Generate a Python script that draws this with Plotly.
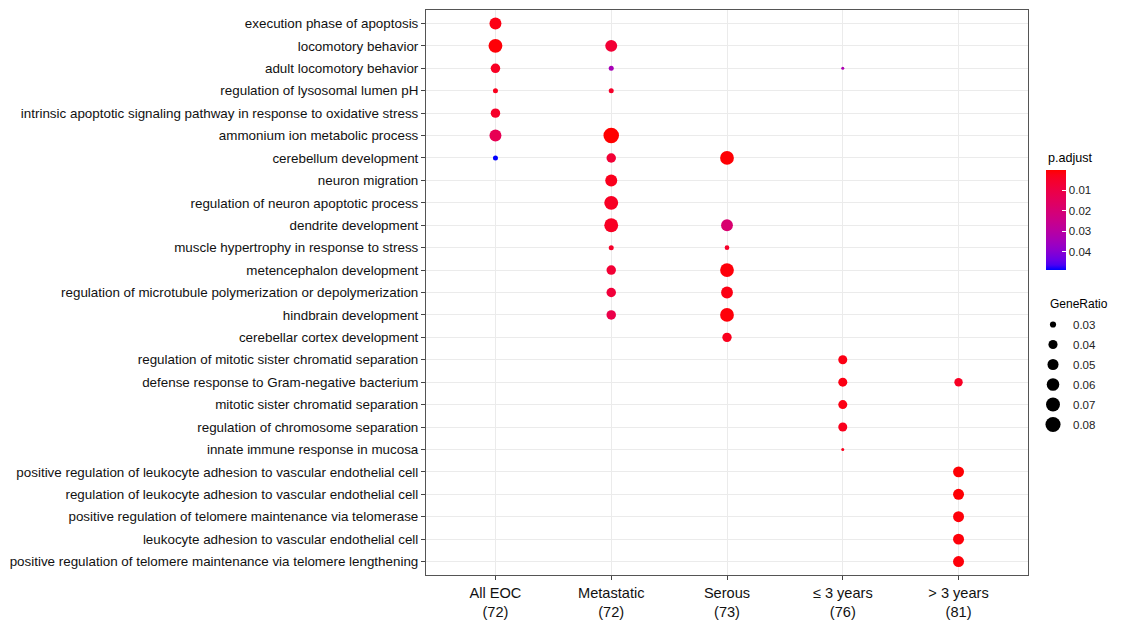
import math
import plotly.graph_objects as go

# ---------------- data ----------------
terms = [
    "execution phase of apoptosis",
    "locomotory behavior",
    "adult locomotory behavior",
    "regulation of lysosomal lumen pH",
    "intrinsic apoptotic signaling pathway in response to oxidative stress",
    "ammonium ion metabolic process",
    "cerebellum development",
    "neuron migration",
    "regulation of neuron apoptotic process",
    "dendrite development",
    "muscle hypertrophy in response to stress",
    "metencephalon development",
    "regulation of microtubule polymerization or depolymerization",
    "hindbrain development",
    "cerebellar cortex development",
    "regulation of mitotic sister chromatid separation",
    "defense response to Gram-negative bacterium",
    "mitotic sister chromatid separation",
    "regulation of chromosome separation",
    "innate immune response in mucosa",
    "positive regulation of leukocyte adhesion to vascular endothelial cell",
    "regulation of leukocyte adhesion to vascular endothelial cell",
    "positive regulation of telomere maintenance via telomerase",
    "leukocyte adhesion to vascular endothelial cell",
    "positive regulation of telomere maintenance via telomere lengthening",
]

groups = ["All EOC", "Metastatic", "Serous", "≤ 3 years", "> 3 years"]
group_n = [72, 72, 73, 76, 81]

# one entry per dot: term index, group index, gene count, p.adjust
dot_term = [0, 1, 2, 3, 4, 5, 6,
            1, 2, 3, 5, 6, 7, 8, 9, 10, 11, 12, 13,
            6, 9, 10, 11, 12, 13, 14,
            2, 15, 16, 17, 18, 19,
            16, 20, 21, 22, 23, 24]
dot_group = [0, 0, 0, 0, 0, 0, 0,
             1, 1, 1, 1, 1, 1, 1, 1, 1, 1, 1, 1,
             2, 2, 2, 2, 2, 2, 2,
             3, 3, 3, 3, 3, 3,
             4, 4, 4, 4, 4, 4]
dot_count = [4, 5, 3, 2, 3, 4, 2,
             4, 2, 2, 6, 3, 4, 5, 5, 2, 3, 3, 3,
             5, 4, 2, 5, 4, 5, 3,
             2, 3, 3, 3, 3, 2,
             3, 4, 4, 4, 4, 4]
dot_padj = [0.002, 0.0008, 0.004, 0.003, 0.005, 0.013, 0.0488,
            0.007, 0.034, 0.005, 0.0001, 0.007, 0.003, 0.004, 0.004, 0.005, 0.007, 0.008, 0.011,
            0.0005, 0.019, 0.005, 0.001, 0.002, 0.001, 0.003,
            0.033, 0.002, 0.002, 0.002, 0.003, 0.003,
            0.004, 0.0005, 0.0005, 0.001, 0.001, 0.001]

size_breaks = [0.03, 0.04, 0.05, 0.06, 0.07, 0.08]
padj_breaks = [0.01, 0.02, 0.03, 0.04]

# ---------------- scales ----------------
gene_ratio = [c / group_n[g] for c, g in zip(dot_count, dot_group)]
r_min, r_max = min(gene_ratio), max(gene_ratio)
D_MIN, D_MAX = 3.0, 15.5


def size_scale(v):
    t = (v - r_min) / (r_max - r_min)
    t = min(max(t, 0.0), 1.0)
    return D_MIN + (D_MAX - D_MIN) * math.sqrt(t)


# Lab interpolation (like ggplot2's gradient) from blue (high p) to red (low p)
def _lin(c):
    c = c / 255.0
    return c / 12.92 if c <= 0.04045 else ((c + 0.055) / 1.055) ** 2.4


def _unlin(c):
    c = 12.92 * c if c <= 0.0031308 else 1.055 * c ** (1 / 2.4) - 0.055
    return max(0, min(255, round(c * 255)))


WX, WY, WZ = 0.95047, 1.0, 1.08883


def rgb2lab(rgb):
    r, g, b = (_lin(v) for v in rgb)
    x = 0.4124 * r + 0.3576 * g + 0.1805 * b
    y = 0.2126 * r + 0.7152 * g + 0.0722 * b
    z = 0.0193 * r + 0.1192 * g + 0.9505 * b

    def f(t):
        return t ** (1 / 3) if t > 216 / 24389 else (24389 / 27 * t + 16) / 116

    fx, fy, fz = f(x / WX), f(y / WY), f(z / WZ)
    return (116 * fy - 16, 500 * (fx - fy), 200 * (fy - fz))


def lab2rgb(lab):
    L, a, b = lab
    fy = (L + 16) / 116
    fx = fy + a / 500
    fz = fy - b / 200

    def finv(t):
        return t ** 3 if t ** 3 > 216 / 24389 else (116 * t - 16) / (24389 / 27)

    x, y, z = finv(fx) * WX, finv(fy) * WY, finv(fz) * WZ
    r = 3.2406 * x - 1.5372 * y - 0.4986 * z
    g = -0.9689 * x + 1.8758 * y + 0.0415 * z
    bb = 0.0557 * x - 0.2040 * y + 1.0570 * z
    return tuple(_unlin(max(0.0, v)) for v in (r, g, bb))


lab_blue = rgb2lab((0, 0, 255))
lab_red = rgb2lab((255, 0, 0))
colorscale = []
N = 20
for i in range(N + 1):
    t = i / N
    lab = tuple(lab_blue[k] + (lab_red[k] - lab_blue[k]) * t for k in range(3))
    r, g, b = lab2rgb(lab)
    colorscale.append([t, f"rgb({r},{g},{b})"])

p_min, p_max = min(dot_padj), max(dot_padj)

FONT = "Liberation Sans, Arial, sans-serif"
ML, MR, MT, MB = 426, 94, 10, 47
W, H = 1122, 622
PW, PH = W - ML - MR, H - MT - MB


def px_x(x):
    return (x - ML) / PW


def px_y(y):
    return (H - MB - y) / PH


fig = go.Figure()

fig.add_trace(go.Scatter(
    x=[groups[g] for g in dot_group],
    y=[terms[t] for t in dot_term],
    mode="markers",
    showlegend=False,
    marker=dict(
        size=[size_scale(v) for v in gene_ratio],
        color=[-p for p in dot_padj],
        cmin=-p_max,
        cmax=-p_min,
        colorscale=colorscale,
        line=dict(width=0),
        opacity=1,
        colorbar=dict(
            tickvals=[-v for v in padj_breaks],
            ticktext=[f"{v:.2f}" for v in padj_breaks],
            ticks="inside",
            tickcolor="white",
            ticklen=4,
            tickfont=dict(family=FONT, size=11.5, color="#222"),
            thickness=20,
            thicknessmode="pixels",
            len=100,
            lenmode="pixels",
            x=px_x(1046),
            xanchor="left",
            xpad=0,
            ypad=0,
            y=px_y(220),
            yanchor="middle",
            outlinewidth=0,
        ),
    ),
    hovertemplate="%{y}<br>%{x}<extra></extra>",
))

for i, v in enumerate(size_breaks):
    fig.add_trace(go.Scatter(
        x=[None], y=[None], mode="markers", name=f"{v:.2f}",
        legendgroup=f"g{i}",
        marker=dict(size=size_scale(v), color="black", line=dict(width=0)),
        showlegend=True,
    ))

fig.update_layout(
    width=W, height=H,
    margin=dict(l=ML, r=MR, t=MT, b=MB, autoexpand=False),
    paper_bgcolor="white",
    plot_bgcolor="white",
    font=dict(family=FONT, color="#000"),
    showlegend=True,
    legend=dict(
        itemsizing="trace",
        itemwidth=30,
        font=dict(family=FONT, size=11.5, color="#222"),
        x=px_x(1033), xanchor="left",
        y=px_y(310), yanchor="top",
        tracegroupgap=1,
        bgcolor="rgba(0,0,0,0)",
    ),
    annotations=[
        dict(text="p.adjust", x=px_x(1046), y=px_y(158), xref="paper", yref="paper",
             xanchor="left", yanchor="middle", showarrow=False,
             font=dict(family=FONT, size=12.6, color="#000")),
        dict(text="GeneRatio", x=px_x(1048), y=px_y(304), xref="paper", yref="paper",
             xanchor="left", yanchor="middle", showarrow=False,
             font=dict(family=FONT, size=12, color="#000")),
    ],
    xaxis=dict(
        type="category",
        categoryorder="array",
        categoryarray=groups,
        range=[-0.6, len(groups) - 0.4],
        tickvals=groups,
        ticktext=[f"{g}<br>({n})" for g, n in zip(groups, group_n)],
        tickfont=dict(family=FONT, size=14.6, color="#111"),
        showgrid=True, gridcolor="#EBEBEB", gridwidth=1,
        ticks="outside", ticklen=4, tickcolor="#444",
        showline=True, linecolor="#555", linewidth=1, mirror=True,
        zeroline=False, automargin=False,
    ),
    yaxis=dict(
        type="category",
        categoryorder="array",
        categoryarray=terms,
        range=[len(terms) - 0.4, -0.6],
        tickfont=dict(family=FONT, size=13.4, color="#111"),
        showgrid=True, gridcolor="#EBEBEB", gridwidth=1,
        ticks="outside", ticklen=4, tickcolor="#444",
        showline=True, linecolor="#555", linewidth=1, mirror=True,
        zeroline=False, automargin=False,
    ),
)

fig.write_html(
    "out.html",
    config={"displayModeBar": False},
    post_script="document.body.style.margin='0';document.body.style.padding='0';",
)
